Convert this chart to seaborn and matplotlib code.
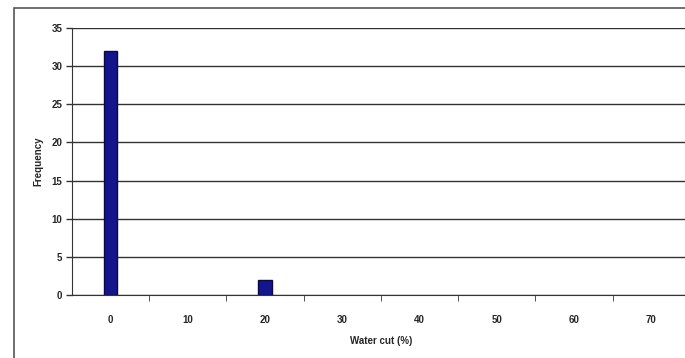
import matplotlib
matplotlib.use('Agg')
import matplotlib.pyplot as plt
import seaborn as sns
import pandas as pd

# Podaci s grafa
categories = ['0', '10', '20', '30', '40', '50', '60', '70']
frequency = [32, 0, 2, 0, 0, 0, 0, 0]
y_ticks = [0, 5, 10, 15, 20, 25, 30, 35]

df = pd.DataFrame({'Water cut': categories, 'Frequency': frequency})

sns.set_style('white')
plt.rcParams['font.family'] = ['Liberation Sans', 'DejaVu Sans']

fig = plt.figure(figsize=(6.85, 3.58), dpi=100)
ax = fig.add_axes([0.105, 0.175, 0.902, 0.748])

sns.barplot(data=df, x='Water cut', y='Frequency', color='#14148c',
            saturation=1, width=0.18, edgecolor='#0a0a40', linewidth=1, ax=ax)
# bez ruba za prazne stupce
for p in ax.patches:
    if p.get_height() == 0:
        p.set_linewidth(0)

ax.set_ylim(0, 35)
ax.set_xlim(-0.5, 7.5)
ax.set_yticks(y_ticks)
ax.set_yticklabels([str(v) for v in y_ticks], fontsize=7, fontweight='bold')
ax.set_xticks(range(len(categories)))
ax.set_xticklabels(categories, fontsize=7, fontweight='bold')
ax.tick_params(axis='x', length=0, pad=14)
ax.tick_params(axis='y', length=4, direction='out', width=1, color='#333333', pad=3, left=True)
# kvacice izmedju kategorija
ax.set_xticks([i + 0.5 for i in range(len(categories))], minor=True)
ax.tick_params(axis='x', which='minor', length=4, direction='out', color='#333333', bottom=True)

ax.grid(axis='y', color='#333333', linewidth=1)
ax.set_axisbelow(True)
for s in ['top', 'right']:
    ax.spines[s].set_visible(False)
ax.spines['left'].set_color('#333333')
ax.spines['bottom'].set_color('#333333')

ax.set_xlabel('Water cut (%)', fontsize=7, fontweight='bold', labelpad=8)
ax.set_ylabel('Frequency', fontsize=7, fontweight='bold', labelpad=6)

# okvir oko grafa
fig.patches.append(plt.Rectangle((0.02, -0.05), 1.0, 1.027, transform=fig.transFigure,
                                 fill=False, edgecolor='#555555', linewidth=1.2))

fig.savefig('out.png', dpi=100)
